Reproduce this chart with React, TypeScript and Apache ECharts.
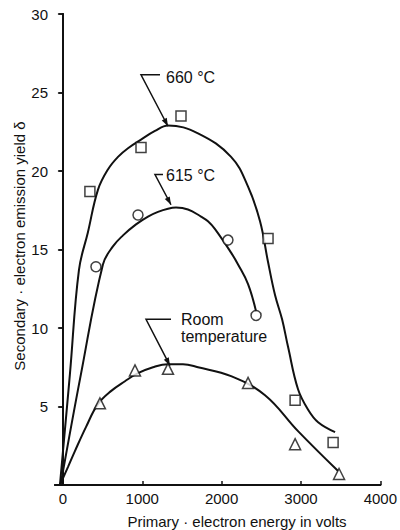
import React, { useEffect, useRef } from "react";
import * as echarts from "echarts";

// Axis ticks
const xTickValues = [0, 1000, 2000, 3000, 4000];

// Measured points (primary energy V, yield δ)
const points660: [number, number][] = [
  [340, 18.7], [984, 21.5], [1488, 23.5], [2585, 15.7], [2926, 5.4], [3405, 2.7],
];
const points615: [number, number][] = [
  [416, 13.9], [946, 17.2], [2080, 15.6], [2434, 10.8],
];
const pointsRoom: [number, number][] = [
  [466, 5.2], [908, 7.3], [1324, 7.4], [2333, 6.5], [2926, 2.6], [3480, 0.7],
];

// Fitted curves
const curve660: [number, number][] = [
  [-38, 0], [88, 7.06], [202, 13.7], [315, 16.1], [441, 18.8], [567, 20.1],
  [694, 20.9], [820, 21.45], [984, 22.0], [1160, 22.55], [1324, 22.9], [1702, 22.4], [2119, 20.9],
  [2333, 19.0], [2484, 16.8], [2585, 14.2], [2673, 12.1], [2762, 10.55],
  [2837, 8.8], [2963, 6.1], [3090, 4.8], [3216, 4.0], [3430, 3.37],
];
const curve615: [number, number][] = [
  [-30, 0], [227, 7.06], [504, 14.05], [630, 15.2], [757, 15.9], [921, 16.6],
  [1072, 17.1], [1198, 17.4], [1324, 17.6], [1425, 17.67], [1576, 17.55],
  [1740, 17.1], [1828, 16.8], [1917, 16.3], [2119, 14.8], [2207, 14.05],
  [2333, 12.8], [2434, 11.06],
];
const curveRoom: [number, number][] = [
  [-38, 0], [63, 1.14], [151, 2.16], [290, 3.69], [441, 5.15], [605, 5.98],
  [782, 6.61], [946, 7.12], [1135, 7.5], [1324, 7.69], [1513, 7.69],
  [1702, 7.5], [2119, 6.93], [2547, 5.72], [2963, 3.43], [3468, 0.89],
];

// Annotations: label lines, text anchor, leader bar end, bend, arrow tip (data coords)
const annotations = [
  { lines: ["660 °C"], text: [1299, 25.95], barEnd: [1223, 26.13], bend: [984, 26.13], tip: [1324, 22.85] },
  { lines: ["615 °C"], text: [1299, 19.7], barEnd: [1261, 19.77], bend: [1160, 19.77], tip: [1362, 17.85] },
  { lines: ["Room", "temperature"], text: [1488, 10.55], barEnd: [1362, 10.55], bend: [1047, 10.55], tip: [1349, 7.6] },
];

const FONT = "'Liberation Sans', Arial, sans-serif";
const INK = "#111";

export default function App() {
  const ref = useRef<HTMLDivElement>(null);
  useEffect(() => {
    if (!ref.current) return;
    const chart = echarts.init(ref.current, undefined, { renderer: "svg" });
    const lineSeries = (data: [number, number][]) => ({
      type: "line",
      data,
      smooth: 0.4,
      showSymbol: false,
      lineStyle: { color: INK, width: 2 },
      z: 2,
    });
    const scatter = (data: [number, number][], symbol: string, size: number) => ({
      type: "scatter",
      data,
      symbol,
      symbolSize: size,
      itemStyle: { color: "#fff", borderColor: INK, borderWidth: 1.5 },
      z: 3,
    });
    chart.setOption({
      animation: false,
      backgroundColor: "#fff",
      grid: { left: 55, right: 18, top: 14, bottom: 45 },
      xAxis: [
        {
          type: "value", min: -100, max: 4000,
          axisLine: { lineStyle: { color: INK, width: 2 } },
          axisTick: { inside: true, length: 4, customValues: xTickValues, lineStyle: { color: INK, width: 1.5 } },
          axisLabel: {
            customValues: xTickValues, color: INK, fontSize: 15, fontFamily: FONT, margin: 6,
            formatter: (v: number) => String(v),
          },
          splitLine: { show: false },
        },
        {
          type: "value", position: "top", min: -100, max: 4000,
          axisLine: { show: true, lineStyle: { color: INK, width: 2 } },
          axisTick: { show: false }, axisLabel: { show: false }, splitLine: { show: false },
        },
      ],
      yAxis: [
        {
          type: "value", min: 0, max: 30, interval: 5,
          axisLine: { show: true, lineStyle: { color: INK, width: 2 } },
          axisTick: { show: true, length: 4, lineStyle: { color: INK, width: 1.5 } },
          axisLabel: {
            color: INK, fontSize: 15, fontFamily: FONT, margin: 7,
            formatter: (v: number) => (v === 0 ? "" : String(v)),
          },
          splitLine: { show: false },
        },
        {
          type: "value", position: "right", min: 0, max: 30, interval: 5,
          axisLine: { show: true, lineStyle: { color: INK, width: 2 } },
          axisTick: { show: true, inside: true, length: 5, lineStyle: { color: INK, width: 1.5 } },
          axisLabel: { show: false }, splitLine: { show: false },
        },
      ],
      series: [
        lineSeries(curve660),
        lineSeries(curve615),
        lineSeries(curveRoom),
        scatter(points660, "rect", 10),
        scatter(points615, "circle", 10),
        scatter(pointsRoom, "triangle", 11),
      ],
    });

    const px = (p: number[]) => chart.convertToPixel({ xAxisIndex: 0, yAxisIndex: 0 }, p) as number[];
    const elements: any[] = [];
    annotations.forEach((a) => {
      const t = px(a.text), be = px(a.barEnd), bd = px(a.bend), tp = px(a.tip);
      elements.push({
        type: "polyline",
        shape: { points: [be, bd, tp] },
        style: { stroke: INK, lineWidth: 1.5, fill: null },
        z: 10,
      });
      const dx = tp[0] - bd[0], dy = tp[1] - bd[1];
      const len = Math.hypot(dx, dy);
      const ux = dx / len, uy = dy / len;
      const L = 8, W = 2.8;
      const bx = tp[0] - ux * L, by = tp[1] - uy * L;
      elements.push({
        type: "polygon",
        shape: { points: [tp, [bx - uy * W, by + ux * W], [bx + uy * W, by - ux * W]] },
        style: { fill: INK },
        z: 10,
      });
      a.lines.forEach((ln, i) => {
        elements.push({
          type: "text",
          x: t[0], y: t[1] + i * 17,
          style: { text: ln, fill: INK, font: `16px ${FONT}`, textVerticalAlign: "middle", textAlign: "left" },
          z: 10,
        });
      });
    });
    elements.push({
      type: "text", x: 237, y: 521,
      style: { text: "Primary · electron energy in volts", fill: INK, font: `15px ${FONT}`, textAlign: "center", textVerticalAlign: "middle" },
    });
    elements.push({
      type: "text", x: 19, y: 246, rotation: Math.PI / 2,
      style: { text: "Secondary · electron emission yield δ", fill: INK, font: `15px ${FONT}`, textAlign: "center", textVerticalAlign: "middle" },
    });
    chart.setOption({ graphic: { elements } });
    return () => chart.dispose();
  }, []);
  return <div ref={ref} style={{ width: 400, height: 530, position: "absolute", left: 0, top: 0 }} />;
}
